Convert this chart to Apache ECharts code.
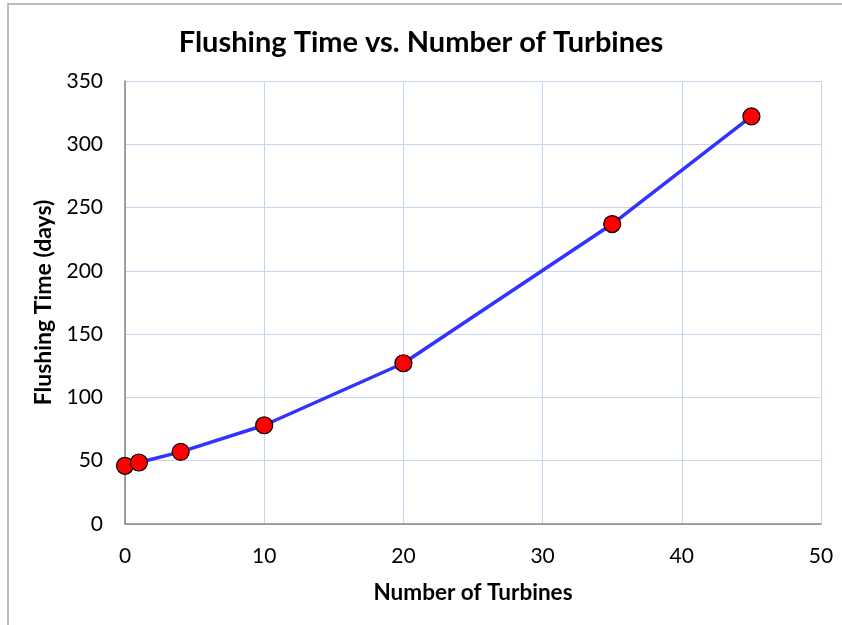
<!DOCTYPE html>
<html><head><meta charset="utf-8">
<script src="https://cdn.jsdelivr.net/npm/echarts@6/dist/echarts.min.js"></script>
<style>html,body{margin:0;padding:0;background:#fff}#c{width:842px;height:625px}</style>
</head><body><div id="c"></div>
<script>
const turbines = [0, 1, 4, 10, 20, 35, 45];
const flushingDays = [46, 48.6, 57, 78, 127, 237, 322];
const xTicks = [0, 10, 20, 30, 40, 50];
const yTicks = [0, 50, 100, 150, 200, 250, 300, 350];

const chart = echarts.init(document.getElementById('c'));
const font = 'Lato, "Open Sans", sans-serif';
chart.setOption({
  animation: false,
  backgroundColor: '#fff',
  graphic: [{type:'rect', shape:{x:8,y:4,width:900,height:700}, style:{fill:'none', stroke:'#a6a6a6', lineWidth:1.5}, z:-1}],
  title: {text:'Flushing Time vs. Number of Turbines', left:'center', top:23,
    textStyle:{fontFamily:font, fontSize:29, fontWeight:'bold', color:'#000'}},
  grid: {left:125, right:21, top:81, bottom:101, containLabel:false},
  xAxis: {type:'value', min:xTicks[0], max:xTicks[xTicks.length-1], interval:10,
    name:'Number of Turbines', nameLocation:'middle', nameGap:57,
    nameTextStyle:{fontFamily:font, fontSize:22.5, fontWeight:'bold', color:'#000'},
    axisLine:{show:true, lineStyle:{color:'#868686', width:1.5}},
    axisTick:{show:false},
    axisLabel:{fontFamily:font, fontSize:21, color:'#000', margin:22},
    splitLine:{show:true, lineStyle:{color:'#c6d6ee', width:1}}},
  yAxis: {type:'value', min:yTicks[0], max:yTicks[yTicks.length-1], interval:50,
    name:'Flushing Time (days)', nameLocation:'middle', nameGap:68,
    nameTextStyle:{fontFamily:font, fontSize:23, fontWeight:'bold', color:'#000'},
    axisLine:{show:true, lineStyle:{color:'#868686', width:1.5}},
    axisTick:{show:false},
    axisLabel:{fontFamily:font, fontSize:21, color:'#000', margin:22},
    splitLine:{show:true, lineStyle:{color:'#c6d6ee', width:1}}},
  series: [{type:'line', data: turbines.map((t,i)=>[t, flushingDays[i]]),
    symbol:'circle', symbolSize:17,
    lineStyle:{color:'#3333ff', width:3.5},
    itemStyle:{color:'#ff0000', borderColor:'#000', borderWidth:1.2}}]
});
</script></body></html>
